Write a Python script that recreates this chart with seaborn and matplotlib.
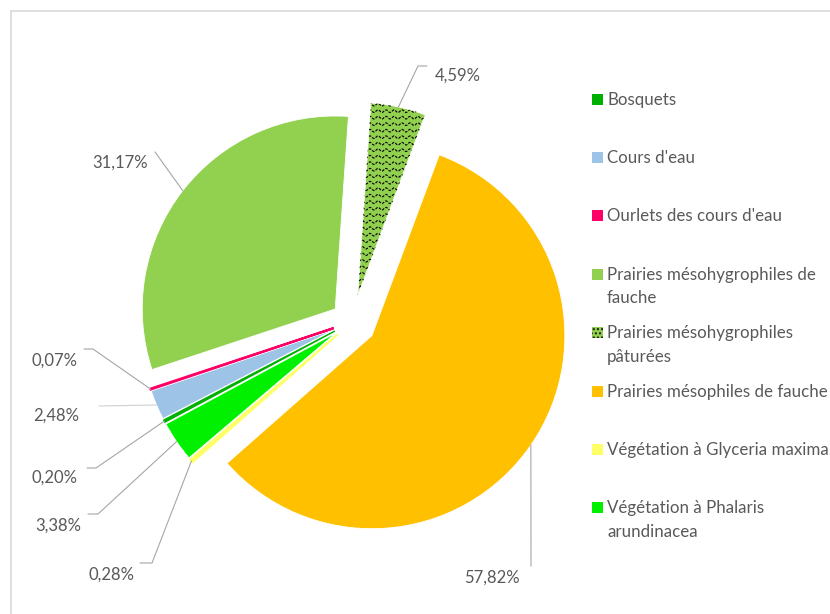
import textwrap
import numpy as np
import matplotlib
matplotlib.use("Agg")
import matplotlib.pyplot as plt
from matplotlib.patches import Rectangle
import seaborn as sns

# ---------------- data ----------------
categories = [
    "Bosquets",
    "Cours d'eau",
    "Ourlets des cours d'eau",
    "Prairies mésohygrophiles de fauche",
    "Prairies mésohygrophiles pâturées",
    "Prairies mésophiles de fauche",
    "Végétation à Glyceria maxima",
    "Végétation à Phalaris arundinacea",
]
values = [0.20, 2.48, 0.07, 31.17, 4.59, 57.82, 0.28, 3.38]
colors = ["#00B000", "#9DC3E6", "#FF0066", "#92D050",
          "#92D050", "#FFC000", "#FFFF66", "#00F000"]

# ---------------- style ----------------
sns.set_theme(style="white")
plt.rcParams['font.family'] = ['Lato', 'DejaVu Sans']
TXT = "#595959"
LEAD = "#A6A6A6"

W, H = 830, 614
CX, CY, R = 352, 322, 193          # pie centre / radius in pixels
explode = [0.10, 0.10, 0.10, 0.11, 0.14, 0.125, 0.10, 0.10]

fig = plt.figure(figsize=(W / 100, H / 100), dpi=100)
ax = fig.add_axes([0, 0, 1, 1])
wedges, _ = ax.pie(values, colors=colors, startangle=90 - 241.8,
                   counterclock=False, explode=explode,
                   wedgeprops=dict(edgecolor="white", linewidth=0.6))
ax.set_xlim(-CX / R, (W - CX) / R)
ax.set_ylim(-(H - CY) / R, CY / R)
ax.set_aspect("auto")
ax.axis("off")

# tiny slices kept visible as in the original
for k, lw in ((0, 1.0), (2, 1.6), (6, 1.4)):
    wedges[k].set_edgecolor(colors[k])
    wedges[k].set_linewidth(lw)
    wedges[k].set_zorder(wedges[k].get_zorder() + 0.1)

# wave pattern on the "pâturées" slice
hw = wedges[4]
cxh, cyh = hw.center
step, period, amp = 6.5 / R, 8.0 / R, 1.3 / R
xs = np.linspace(cxh - 1.2, cxh + 1.2, 1200)
for yr in np.arange(cyh - 1.2, cyh + 1.2, step):
    ln, = ax.plot(xs, yr + amp * np.sin(2 * np.pi * xs / period),
                  color="black", lw=0.8, ls=(0, (2.4, 1.2)))
    ln.set_clip_path(hw)

# ---------------- overlay in pixel coordinates ----------------
ov = fig.add_axes([0, 0, 1, 1], zorder=5)
ov.set_xlim(0, W)
ov.set_ylim(H, 0)
ov.axis("off")
ov.patch.set_alpha(0)

# chart frame
ov.plot([11, 11], [H, 11], color="#D9D9D9", lw=1.2)
ov.plot([11, W], [11, 11], color="#D9D9D9", lw=1.2)


def wedge_outer_px(w):
    a = np.deg2rad((w.theta1 + w.theta2) / 2)
    x = w.center[0] + w.r * np.cos(a)
    y = w.center[1] + w.r * np.sin(a)
    return CX + R * x, CY - R * y


label_pos = [(54.5, 478), (56.5, 416), (54, 361), (120.5, 163),
             (458, 76), (492, 578), (111, 575), (58.5, 526)]
leader_pts = [[(87, 468), (96, 468)], [(99, 406)], [(84, 349), (93, 349)],
              [(155, 152)], [(427, 66), (418, 66)], [(531, 566)],
              [(140, 563), (152, 563)], [(88, 514), (98, 514)]]

for i, v in enumerate(values):
    px, py = wedge_outer_px(wedges[i])
    pts = leader_pts[i] + [(px, py)]
    ov.plot([p[0] for p in pts], [p[1] for p in pts],
            color="#D0D0D0" if i == 1 else LEAD, lw=0.8)
    lx, ly = label_pos[i]
    ov.text(lx, ly, f"{v:.2f}%".replace(".", ","), ha="center", va="center",
            fontsize=12, color=TXT)

# legend
for i, cat in enumerate(categories):
    y0 = 99 + i * 58.4
    if i == 4:
        ov.add_patch(Rectangle((592, y0 - 5.5), 11, 11, facecolor=colors[i],
                               edgecolor="#1a1a1a", lw=0, hatch="...."))
    else:
        ov.add_patch(Rectangle((592, y0 - 5.5), 11, 11, facecolor=colors[i],
                               edgecolor="none"))
    ov.text(607, y0 - 7.5, textwrap.fill(cat, 29), ha="left", va="top",
            fontsize=12.2, color=TXT, linespacing=1.58, clip_on=False)

fig.savefig("out.png", dpi=100, facecolor="white")
